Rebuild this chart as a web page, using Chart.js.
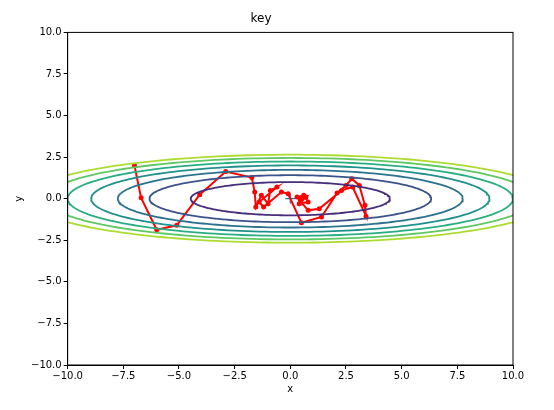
<!DOCTYPE html>
<html><head><script src="https://cdn.jsdelivr.net/npm/chart.js@4"></script>
<style>body{margin:0;background:#fff}</style></head>
<body><div style="width:554px;height:410px"><canvas id="c"></canvas></div>
<script>
// contour levels of f = x^2/20 + y^2
const levels = [1, 2, 3, 4, 5, 6, 7];
const levelColors = ['#472d7b', '#3b528b', '#2c728e', '#21918c', '#28ae80', '#5ec962', '#addc30'];
const pathX = [-7.0,-6.7,-6.0,-5.1,-4.07,-2.9,-1.73,-1.6,-1.55,-1.3,-1.0,-0.9,-0.6,-1.4,-1.2,-0.4,-0.1,0.5,1.4,2.1,2.5,2.76,3.1,3.35,3.4,2.8,2.3,1.3,0.8,0.3,0.6,0.8,0.4,0.7,0.5,0.45];
const pathY = [2.0,0.05,-1.87,-1.6,0.24,1.63,1.27,0.4,-0.5,0.2,-0.3,0.5,0.7,-0.2,-0.5,0.4,0.3,-1.45,-1.1,0.35,0.8,1.2,0.8,-0.4,-1.05,0.7,0.5,-0.6,-0.7,0.1,0.2,-0.2,-0.3,0.1,0,-0.1];

const datasets = [];
levels.forEach((c, k) => {
  const a = Math.sqrt(20 * c), b = Math.sqrt(c), pts = [];
  for (let i = 0; i <= 200; i++) {
    const t = i / 200 * 2 * Math.PI;
    pts.push({x: a * Math.cos(t), y: b * Math.sin(t)});
  }
  datasets.push({data: pts, showLine: true, borderColor: levelColors[k], borderWidth: 1.8, pointRadius: 0});
});
datasets.push({data: pathX.map((x, i) => ({x: x, y: pathY[i]})), showLine: true, borderColor: 'red',
  backgroundColor: 'red', borderWidth: 2, pointRadius: 2.5, pointBorderWidth: 0});
datasets.push({data: [{x: 0, y: 0}], pointStyle: 'cross', pointRadius: 5, borderColor: '#1f77b4', borderWidth: 1.2});

const tickFont = {family: 'DejaVu Sans', size: 10};
const fmt = v => v.toFixed(1).replace('-', '\u2212');
const tickGrid = {drawOnChartArea: false, drawTicks: true, tickLength: 4, color: '#000'};
new Chart(document.getElementById('c'), {
  type: 'scatter',
  data: {datasets: datasets},
  options: {
    responsive: true, maintainAspectRatio: false, animation: false,
    layout: {padding: {left: 9, right: 41, top: 2, bottom: 15}},
    plugins: {legend: {display: false}, tooltip: {enabled: false},
      title: {display: true, text: 'key', color: '#000', font: {family: 'DejaVu Sans', size: 12, weight: 'normal'}, padding: {top: 10, bottom: 6}}},
    scales: {
      x: {min: -10, max: 10, grid: tickGrid, border: {color: '#000'},
        ticks: {stepSize: 2.5, color: '#000', font: tickFont, callback: fmt, padding: 1},
        title: {display: true, text: 'x', color: '#000', font: tickFont, padding: 0}},
      y: {min: -10, max: 10, grid: tickGrid, border: {color: '#000'},
        ticks: {stepSize: 2.5, color: '#000', font: tickFont, callback: fmt, padding: 2},
        title: {display: true, text: 'y', color: '#000', font: tickFont}}
    }
  },
  plugins: [{id: 'frame', afterDraw(ch) {
    const a = ch.chartArea, g = ch.ctx;
    g.save(); g.strokeStyle = '#000'; g.lineWidth = 1;
    g.strokeRect(a.left, a.top, a.right - a.left, a.bottom - a.top); g.restore();
  }}]
});
</script></body></html>
